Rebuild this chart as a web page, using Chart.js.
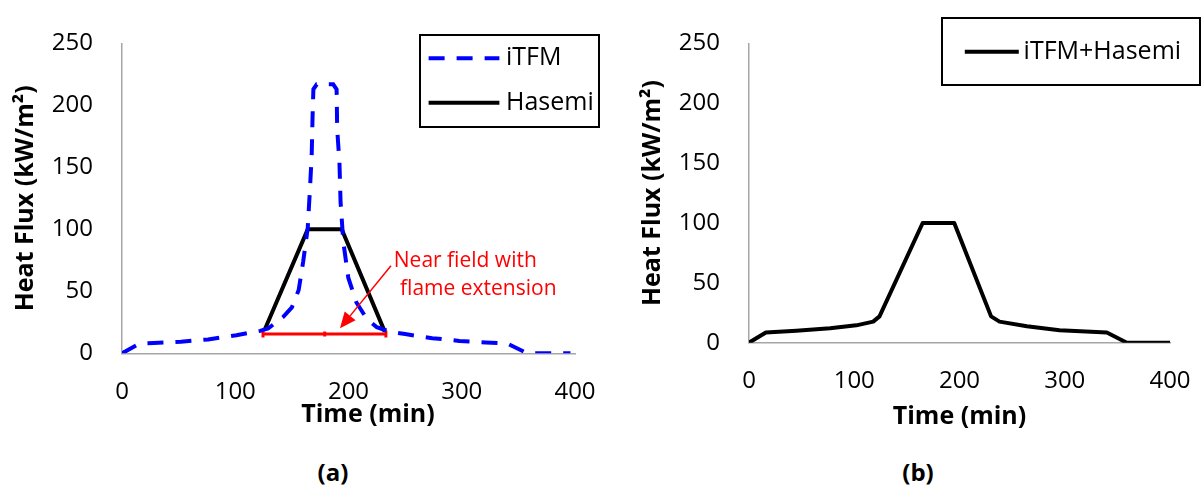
<!DOCTYPE html>
<html>
<head>
<meta charset="utf-8">
<script src="https://cdn.jsdelivr.net/npm/chart.js@4.4.1/dist/chart.umd.min.js"></script>
<style>
html,body{margin:0;padding:0;background:#fff;width:1202px;height:498px;overflow:hidden;}
#wa{position:absolute;left:0;top:0;width:620px;height:440px;}
#wb{position:absolute;left:600px;top:0;width:615px;height:440px;}
.lab{position:absolute;font-family:'Open Sans',sans-serif;font-weight:bold;font-size:24px;color:#000;transform:translate(-50%,-50%);white-space:nowrap;line-height:1;}
</style>
</head>
<body>
<div id="wa"><canvas id="ca" width="620" height="440"></canvas></div>
<div id="wb"><canvas id="cb" width="615" height="440"></canvas></div>
<div class="lab" style="left:333px;top:472px;">(a)</div>
<div class="lab" style="left:918px;top:472px;">(b)</div>
<script>
// ---------- data ----------
const itfmTime   = [0,16,28,52,76,101,122,129,142,150,156,160,164,166,167.5,168.3,169,172,186.5,189.5,190,192,193,195.4,199.8,207,216,225,237,250,274,298,321,340,358,396];
const itfmFlux   = [0,8,8.3,9.3,11.2,14.6,18.1,20,29,37,51,74,101,133,160,192,213,217,217,213,181,154,122,90,61,41,28,21,17.3,15.5,12.2,10,8.8,8,0,0];
const hasemiTime = [126,164,194,232];
const hasemiFlux = [19,100,100,17.5];
const nearTime   = [124.5,179,233];
const nearFlux   = [15.5,15.5,15.5];
const combTime   = [0,16,45,77,102,118,124,165,195,230,238,264,295,340,359,400];
const combFlux   = [0,8.5,9.9,12,14.5,17.6,22,100,100,22,17.6,13.8,10.4,8.5,0,0];
const xTicks     = {min:0, max:400, step:100};
const yTicks     = {min:0, max:250, step:50};
const seriesNames = {itfm:'iTFM', hasemi:'Hasemi', comb:'iTFM+Hasemi'};
const xTitle = 'Time (min)';
const yTitle = 'Heat Flux (kW/m²)';
const noteLines = ['Near field with','flame extension'];

const zip = (xs, ys) => xs.map((v,i)=>({x:v, y:ys[i]}));

// ---------- plugins ----------
const boxLegend = {
  id:'boxLegend',
  afterDraw(chart, args, o){
    if(!o || !o.box) return;
    const ctx = chart.ctx; ctx.save();
    ctx.strokeStyle = '#000'; ctx.lineWidth = o.borderWidth;
    ctx.strokeRect(o.box[0], o.box[1], o.box[2], o.box[3]);
    ctx.font = o.font; ctx.textBaseline = 'middle'; ctx.textAlign = 'left'; ctx.fillStyle = '#000';
    o.items.forEach(it=>{
      const ds = chart.data.datasets[it.dataset];
      ctx.beginPath(); ctx.setLineDash(ds.borderDash || []); ctx.lineDashOffset = 0;
      ctx.strokeStyle = ds.borderColor; ctx.lineWidth = ds.borderWidth; ctx.lineCap = 'butt';
      ctx.moveTo(it.x1, it.y); ctx.lineTo(it.x2, it.y); ctx.stroke();
      ctx.setLineDash([]);
      ctx.fillText(ds.label, it.tx, it.y);
    });
    ctx.restore();
  }
};

const annotate = {
  id:'annotate',
  afterDraw(chart, args, o){
    if(!o || !o.enabled) return;
    const ctx = chart.ctx, sx = chart.scales.x, sy = chart.scales.y;
    ctx.save();
    const x0 = sx.getPixelForValue(o.arrowFrom[0]), y0 = sy.getPixelForValue(o.arrowFrom[1]);
    const x1 = sx.getPixelForValue(o.arrowTo[0]),   y1 = sy.getPixelForValue(o.arrowTo[1]);
    const a = Math.atan2(y1-y0, x1-x0), c = Math.cos(a), s = Math.sin(a);
    const hl = o.headLength, hw = o.headWidth;
    ctx.strokeStyle = o.color; ctx.fillStyle = o.color; ctx.lineWidth = o.lineWidth;
    ctx.beginPath(); ctx.moveTo(x0,y0); ctx.lineTo(x1-hl*c, y1-hl*s); ctx.stroke();
    ctx.beginPath();
    ctx.moveTo(x1,y1);
    ctx.lineTo(x1-hl*c+hw*s, y1-hl*s-hw*c);
    ctx.lineTo(x1-hl*c-hw*s, y1-hl*s+hw*c);
    ctx.closePath(); ctx.fill();
    ctx.font = o.font; ctx.textBaseline = 'middle'; ctx.textAlign = 'left';
    o.lines.forEach(l => ctx.fillText(l.text, sx.getPixelForValue(l.at[0]), sy.getPixelForValue(l.at[1])));
    // x-axis title (offset from axis centre as in the reference)
    ctx.fillStyle = '#000'; ctx.font = o.titleFont; ctx.textAlign = 'center';
    ctx.fillText(o.xTitle, o.xTitlePos[0], o.xTitlePos[1]);
    ctx.restore();
  }
};

function axes(o){
  const tickFont = {family:"'Open Sans', sans-serif", size:24, lineHeight:1.2};
  const titleFont = {family:"'Open Sans', sans-serif", size:25, weight:'bold', lineHeight:1.2};
  return {
    x:{type:'linear', min:xTicks.min, max:xTicks.max,
       ticks:{stepSize:xTicks.step, font:tickFont, color:'#000', padding:24, maxRotation:0},
       grid:{display:false, drawTicks:false},
       border:{display:true, color:'#A6A6A6', width:1.5},
       title:{display:o.showXTitle, text:xTitle, font:titleFont, color:'#000', padding:{top:0,bottom:0}},
       afterFit:(s)=>{ s.height = o.xh; }},
    y:{type:'linear', min:yTicks.min, max:yTicks.max,
       ticks:{stepSize:yTicks.step, font:tickFont, color:'#000', padding:29},
       grid:{display:false, drawTicks:false},
       border:{display:true, color:'#A6A6A6', width:1.5},
       title:{display:true, text:yTitle, font:titleFont, color:'#000', padding:{top:o.ytPad,bottom:0}},
       afterFit:(s)=>{ s.width = o.yw; }}
  };
}

function build(){
  Chart.defaults.font.family = "'Open Sans', sans-serif";
  Chart.defaults.color = '#000';

  new Chart(document.getElementById('ca'), {
    type:'line',
    data:{datasets:[
      {label:seriesNames.itfm, data:zip(itfmTime, itfmFlux), borderColor:'#0000FF', borderWidth:4,
       borderDash:[16,12], borderCapStyle:'butt', pointRadius:0, tension:0, fill:false},
      {label:seriesNames.hasemi, data:zip(hasemiTime, hasemiFlux), borderColor:'#000000', borderWidth:4,
       pointRadius:0, tension:0, fill:false},
      {label:'near field', data:zip(nearTime, nearFlux), borderColor:'#FF0000', borderWidth:3,
       pointStyle:'line', rotation:90, pointRadius:[3.5,2.5,3.5], pointBorderWidth:3,
       pointBorderColor:'#FF0000', pointBackgroundColor:'#FF0000', tension:0, fill:false}
    ]},
    options:{
      responsive:false, animation:false, devicePixelRatio:1,
      layout:{padding:{left:0, right:45, top:40.5, bottom:10}},
      scales:axes({xh:76.7, yw:122, ytPad:11, showXTitle:false}),
      plugins:{
        legend:{display:false}, tooltip:{enabled:false},
        boxLegend:{box:[420,35,179,92], borderWidth:2, font:"25px 'Open Sans', sans-serif",
          items:[{dataset:0, x1:428.6, x2:499.4, y:58.3, tx:506},
                 {dataset:1, x1:428.6, x2:499.4, y:102.7, tx:506}]},
        annotate:{enabled:true, color:'#FF0000', lineWidth:1.5, headLength:16, headWidth:7,
          arrowFrom:[237.5,70.6], arrowTo:[192.5,20.2],
          font:"21px 'Open Sans', sans-serif",
          lines:[{text:noteLines[0], at:[240,74.5]},{text:noteLines[1], at:[245.5,52.2]}],
          titleFont:"bold 25px 'Open Sans', sans-serif", xTitle:xTitle, xTitlePos:[368,415]}
      }
    },
    plugins:[boxLegend, annotate]
  });

  new Chart(document.getElementById('cb'), {
    type:'line',
    data:{datasets:[
      {label:seriesNames.comb, data:zip(combTime, combFlux), borderColor:'#000000', borderWidth:4,
       pointRadius:0, tension:0, fill:false, borderJoinStyle:'round'}
    ]},
    options:{
      responsive:false, animation:false, devicePixelRatio:1,
      layout:{padding:{left:0, right:45, top:21, bottom:8}},
      scales:axes({xh:89.3, yw:149, ytPad:38, showXTitle:true}),
      plugins:{
        legend:{display:false}, tooltip:{enabled:false},
        boxLegend:{box:[342,18,258,67], borderWidth:2, font:"25px 'Open Sans', sans-serif",
          items:[{dataset:0, x1:364.8, x2:418.8, y:51.7, tx:423.6}]}
      }
    },
    plugins:[boxLegend]
  });
}

const fontsReady = Promise.all([
  document.fonts.load("24px 'Open Sans'"),
  document.fonts.load("bold 25px 'Open Sans'")
]).catch(()=>{});
Promise.race([fontsReady, new Promise(r=>setTimeout(r,1500))]).then(build);
</script>
</body>
</html>
